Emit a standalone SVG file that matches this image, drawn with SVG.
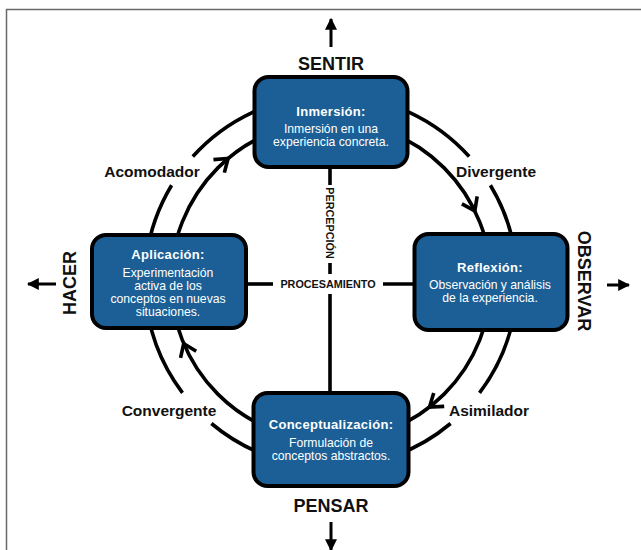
<svg xmlns="http://www.w3.org/2000/svg" xmlns:xlink="http://www.w3.org/1999/xlink" width="641" height="550" viewBox="0 0 641 550">
<style>
.ring{fill:none;stroke:#000;stroke-width:3.6}
.ln{fill:none;stroke:#000;stroke-width:3.6}
.chev{fill:none;stroke:#000;stroke-width:3.6;stroke-linejoin:miter;stroke-linecap:butt}
.ax{fill:none;stroke:#000;stroke-width:3}
.box{fill:#1b5f96;stroke:#000;stroke-width:4}
.tt{font-family:"Liberation Sans",Arial,sans-serif;font-weight:bold;font-size:13px;fill:#fff;text-anchor:middle;letter-spacing:0.3px}
.bd{font-family:"Liberation Sans",Arial,sans-serif;font-size:12.2px;fill:#fff;text-anchor:middle}
.lab{font-family:"Liberation Sans",Arial,sans-serif;font-weight:bold;font-size:15.5px;fill:#111;text-anchor:middle}
.card{font-family:"Liberation Sans",Arial,sans-serif;font-weight:bold;font-size:18px;fill:#111;text-anchor:middle}
.axl{font-family:"Liberation Sans",Arial,sans-serif;font-weight:bold;font-size:10.8px;fill:#111;text-anchor:middle}
</style>
<defs>
<path id="chev" class="chev" d="M-12,-8.5 L0,0 L-12,8.5"/>
<marker id="ah" viewBox="0 0 10 10" refX="9" refY="5" markerWidth="4" markerHeight="4" orient="auto" markerUnits="strokeWidth">
<path d="M0,0 L10,5 L0,10 Z" fill="#000"/>
</marker>
</defs>
<rect x="0" y="0" width="641" height="550" fill="#fff"/>
<g id="frame">
<rect x="6.5" y="9.5" width="700" height="600" fill="none" stroke="#6a6a6a" stroke-width="1.5"/>
</g>
<g id="connectors">
<circle class="ring" cx="331" cy="281" r="160"/>
<path class="ring" d="M192.8,156.5 A186,186 0 0 1 469.2,156.5"/>
<path class="ring" d="M490.4,185.2 A186,186 0 0 1 479.5,392.9"/>
<path class="ring" d="M450.6,423.5 A186,186 0 0 1 211.4,423.5"/>
<path class="ring" d="M182.5,392.9 A186,186 0 0 1 171.6,185.2"/>
<use xlink:href="#chev" transform="translate(228.1,158.4) rotate(320)"/>
<use xlink:href="#chev" transform="translate(474.8,210.9) rotate(64)"/>
<use xlink:href="#chev" transform="translate(429.5,407.1) rotate(142)"/>
<use xlink:href="#chev" transform="translate(183.7,343.5) rotate(247)"/>
<line class="ln" x1="330" y1="165" x2="330" y2="185"/>
<line class="ln" x1="330" y1="263" x2="330" y2="274"/>
<line class="ln" x1="330" y1="294" x2="330" y2="395"/>
<line class="ln" x1="244" y1="284" x2="273" y2="284"/>
<line class="ln" x1="383" y1="284" x2="417" y2="284"/>
<line class="ax" x1="331" y1="47" x2="331" y2="19" marker-end="url(#ah)"/>
<line class="ax" x1="331" y1="522" x2="331" y2="550" marker-end="url(#ah)"/>
<line class="ax" x1="56" y1="284" x2="28" y2="284" marker-end="url(#ah)"/>
<line class="ax" x1="607" y1="285" x2="629" y2="285" marker-end="url(#ah)"/>
</g>
<g id="node-inmersion">
<rect class="box" x="254.5" y="77" width="153" height="90" rx="14"/>
<text class="tt" x="331" y="116">Inmersión:</text>
<text class="bd" x="331" y="133">Inmersión en una</text>
<text class="bd" x="331" y="146">experiencia concreta.</text>
</g>
<g id="node-aplicacion">
<rect class="box" x="92" y="235" width="154" height="93" rx="14"/>
<text class="tt" x="168" y="259">Aplicación:</text>
<text class="bd" x="168" y="276.5">Experimentación</text>
<text class="bd" x="168" y="289.5">activa de los</text>
<text class="bd" x="168" y="302.5">conceptos en nuevas</text>
<text class="bd" x="168" y="315.5">situaciones.</text>
</g>
<g id="node-reflexion">
<rect class="box" x="414.5" y="234" width="153" height="96" rx="14"/>
<text class="tt" x="490" y="271.5">Reflexión:</text>
<text class="bd" x="490" y="289">Observación y análisis</text>
<text class="bd" x="490" y="302">de la experiencia.</text>
</g>
<g id="node-conceptualizacion">
<rect class="box" x="253.5" y="393" width="155" height="93" rx="14"/>
<text class="tt" x="331" y="429">Conceptualización:</text>
<text class="bd" x="331" y="446.5">Formulación de</text>
<text class="bd" x="331" y="459.5">conceptos abstractos.</text>
</g>
<g id="labels">
<text class="lab" x="152" y="177">Acomodador</text>
<text class="lab" x="496" y="177">Divergente</text>
<text class="lab" x="489" y="415.5">Asimilador</text>
<text class="lab" x="169" y="415.5">Convergente</text>
<text class="card" x="331" y="69.5">SENTIR</text>
<text class="card" x="331" y="511.5">PENSAR</text>
<text class="card" transform="translate(70,283) rotate(-90)" x="0" y="6.4">HACER</text>
<text class="card" transform="translate(584,281) rotate(90)" x="0" y="6.4">OBSERVAR</text>
<text class="axl" transform="translate(330,223) rotate(90)" x="0" y="3.9">PERCEPCIÓN</text>
<text class="axl" x="328" y="288">PROCESAMIENTO</text>
</g>
</svg>
